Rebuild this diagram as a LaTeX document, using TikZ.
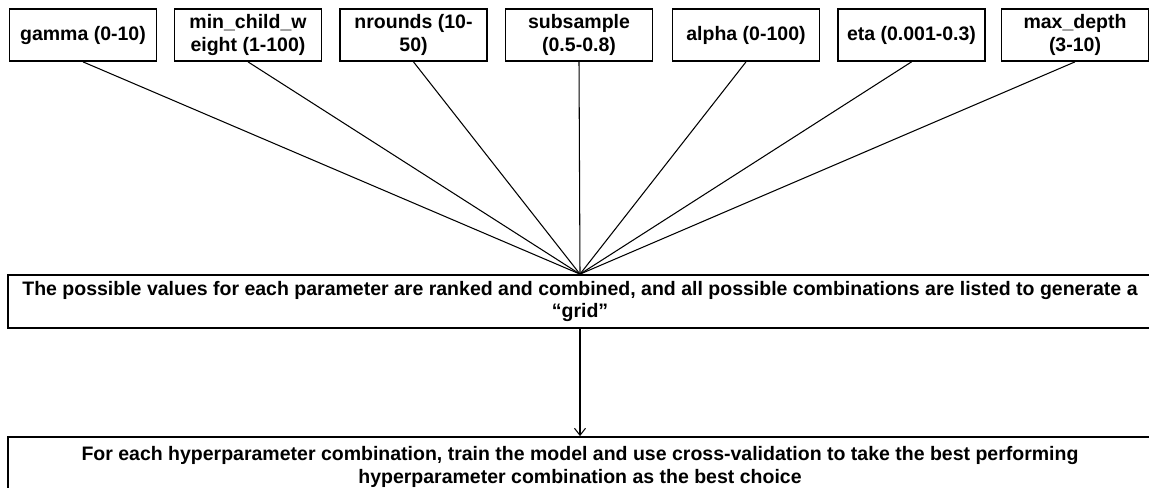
\documentclass[tikz,border=0pt]{standalone}
\usepackage{fontspec}
\setmainfont{Liberation Sans}
\usetikzlibrary{positioning,arrows.meta}

\begin{document}
\begin{tikzpicture}[x=0.02cm,y=-0.02cm,
    param/.style={draw,line width=1pt,align=center,minimum width=2.94cm,minimum height=1.04cm,inner sep=0mm,font=\bfseries\fontsize{11.1}{13}\selectfont},
    stage/.style={draw,line width=1pt,align=center,minimum width=22.88cm,inner sep=0mm,font=\bfseries\fontsize{11.1}{13}\selectfont}]
  \useasboundingbox (0,0) rectangle (1149,487);
  % parameter ranges
  \node[param] (gamma) at (83,35) {gamma (0-10)};
  \node[param] (minchild) at (248,35) {min\_child\_w\\eight (1-100)};
  \node[param] (nrounds) at (413.5,35) {nrounds (10-\\50)};
  \node[param] (subsample) at (579,35) {subsample\\(0.5-0.8)};
  \node[param] (alpha) at (746,35) {alpha (0-100)};
  \node[param] (eta) at (911.5,35) {eta (0.001-0.3)};
  \node[param] (maxdepth) at (1075,35) {max\_depth\\(3-10)};
  % grid and choice
  \node[stage,minimum height=1.06cm] (grid) at (580,301.5) {The possible values for each parameter are ranked and combined, and all possible combinations are listed to generate a\\``grid''};
  \node[stage,minimum height=1.2cm] (best) at (580,467) {For each hyperparameter combination, train the model and use cross-validation to take the best performing\\hyperparameter combination as the best choice};
  \foreach \p in {gamma,minchild,nrounds,subsample,alpha,eta,maxdepth}
    \draw[line width=0.6pt] (\p.south) -- (grid.north);
  \draw[line width=0.6pt,-{Straight Barb[length=1.4mm,width=2.2mm]}] (grid) -- (best);
\end{tikzpicture}
\end{document}
